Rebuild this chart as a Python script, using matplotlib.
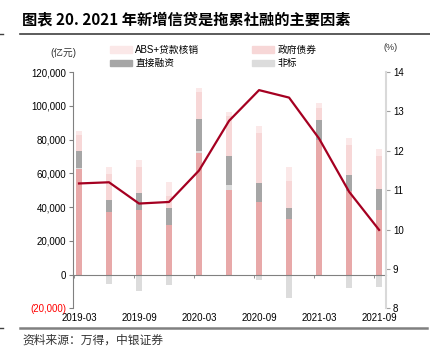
import matplotlib
matplotlib.use("Agg")
import matplotlib.pyplot as plt
from matplotlib.ticker import FuncFormatter, FixedLocator
from matplotlib.patches import Patch
from matplotlib.lines import Line2D
import numpy as np

plt.rcParams['font.family'] = ['Liberation Sans', 'Noto Sans CJK SC', 'DejaVu Sans']

categories = ['2019-03', '2019-06', '2019-09', '2019-12', '2020-03', '2020-06',
              '2020-09', '2020-12', '2021-03', '2021-06', '2021-09']
loans = [62400, 36900, 38100, 29200, 72100, 50300, 43200, 33000, 79500, 49700, 38500]
nonstd = [800, -5500, -9900, -5900, 1300, 2800, -3000, -13800, 400, -7900, -7300]
direct = [9800, 7100, 10300, 10300, 19000, 16900, 10800, 6700, 11900, 9100, 12200]
govbond = [9500, 15600, 15100, 6900, 15800, 23700, 29900, 15900, 6900, 18200, 19300]
abs_writeoff = [2750, 4300, 4600, 8300, 2300, 2400, 3900, 8100, 2900, 3900, 4400]
tsf_growth = [11.17, 11.2, 10.66, 10.7, 11.5, 12.76, 13.54, 13.35, 12.31, 10.96, 9.99]
tick_labels = ['2019-03', '2019-09', '2020-03', '2020-09', '2021-03', '2021-09']

c_loan = '#e8a9a9'
c_non = '#dcdcdc'
c_dir = '#a6a6a6'
c_gov = '#f7d7d7'
c_abs = '#fbe8e8'
c_line = '#a50021'

fig = plt.figure(figsize=(4.30, 3.59), dpi=100)
ax = fig.add_axes([73/430, 1-308.3/359, (386-73)/430, (308.3-72)/359])

x = np.arange(len(categories))
w = 0.22
loans_a = np.array(loans, float)
non_a = np.array(nonstd, float)
pos_non = np.where(non_a > 0, non_a, 0)
neg_non = np.where(non_a < 0, non_a, 0)
b = np.zeros(len(x))
ax.bar(x, loans_a, w, bottom=b, color=c_loan, zorder=2); b = b + loans_a
ax.bar(x, pos_non, w, bottom=b, color=c_non, zorder=2); b = b + pos_non
ax.bar(x, neg_non, w, bottom=0, color=c_non, zorder=2)
ax.bar(x, direct, w, bottom=b, color=c_dir, zorder=2); b = b + np.array(direct)
ax.bar(x, govbond, w, bottom=b, color=c_gov, zorder=2); b = b + np.array(govbond)
ax.bar(x, abs_writeoff, w, bottom=b, color=c_abs, zorder=2)

ax.set_xlim(-0.2, 10.23)
ax.set_ylim(-20000, 120000)
ax.set_yticks(np.arange(-20000, 120001, 20000))

def fmt(v, p):
    if v < 0:
        return '({:,.0f})'.format(-v)
    return '{:,.0f}'.format(v)
ax.yaxis.set_major_formatter(FuncFormatter(fmt))
for lbl in ax.get_yticklabels():
    if lbl.get_text().startswith('('):
        lbl.set_color('red')
ax.tick_params(axis='y', labelsize=7, length=3, color='#808080', width=0.8, pad=2)

ax.spines['top'].set_visible(False)
ax.spines['right'].set_visible(False)
ax.spines['left'].set_color('#808080')
ax.spines['left'].set_linewidth(0.8)
ax.spines['bottom'].set_position(('data', 0))
ax.spines['bottom'].set_color('#808080')
ax.spines['bottom'].set_linewidth(0.8)

ax.set_xticks(x[::2])
ax.set_xticklabels(tick_labels)
ax.tick_params(axis='x', which='major', length=0, labelsize=7, pad=28)
ax.xaxis.set_minor_locator(FixedLocator(x[::2] - 0.17))
ax.tick_params(axis='x', which='minor', length=2.5, color='#808080', direction='out')

ax2 = ax.twinx()
ax2.plot(x, tsf_growth, color=c_line, lw=1.6, zorder=5)
ax2.set_ylim(8, 14)
ax2.set_yticks(range(8, 15))
ax2.tick_params(axis='y', labelsize=7, length=3, color='#a0a0a0', width=0.8, pad=2)
for s in ['top', 'left', 'bottom']:
    ax2.spines[s].set_visible(False)
ax2.spines['right'].set_color('#d9d9d9')
ax2.spines['right'].set_linewidth(1.5)

# legend (column-wise fill: col1 = ABS, 直接融资; col2 = 政府债券, 非标)
handles = [Patch(color=c_abs), Patch(color=c_dir), Patch(color=c_gov), Patch(color=c_non)]
labels = ['ABS+贷款核销', '直接融资', '政府债券', '非标']
fig.legend(handles, labels, ncol=2, loc='upper left',
           bbox_to_anchor=(110/430, 1-45/359), frameon=False, fontsize=7,
           handlelength=2.3, handleheight=0.7, handletextpad=0.3,
           columnspacing=5.4, labelspacing=0.35, borderaxespad=0, borderpad=0)

fig.text(50/430, 1-53/359, '(亿元)', fontsize=7, va='center', ha='left', color='#333333')
fig.text(384/430, 1-47/359, '(%)', fontsize=6.5, va='center', ha='left', color='#333333')

fig.text(22/430, 1-19/359, '图表 20. 2021 年新增信贷是拖累社融的主要因素', fontsize=11,
         fontweight='bold', family=['Noto Sans CJK SC', 'DejaVu Sans'], va='center', ha='left')
fig.add_artist(Line2D([20/430, 1.0], [1-34/359, 1-34/359], color='#404040', lw=1.2))
fig.add_artist(Line2D([0, 3/430], [1-34/359, 1-34/359], color='#404040', lw=1.0))
fig.add_artist(Line2D([20/430, 427/430], [1-328/359, 1-328/359], color='#808080', lw=1.8))
fig.add_artist(Line2D([0, 3/430], [1-328/359, 1-328/359], color='#404040', lw=1.0))
fig.text(22/430, 1-340/359, '资料来源：万得，中银证券', fontsize=8.5, style='italic',
         family=['Noto Sans CJK SC', 'DejaVu Sans'], va='center', ha='left', color='#333333')

fig.savefig('out.png', dpi=100)
